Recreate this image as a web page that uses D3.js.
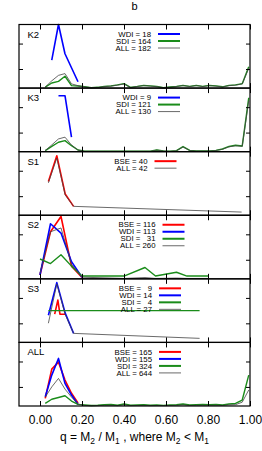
<!DOCTYPE html>
<html>
<head>
<meta charset="utf-8">
<script src="https://cdn.jsdelivr.net/npm/d3@7"></script>
<style>
  body { margin: 0; background: #fff; }
  text { font-family: "Liberation Sans", Arial, sans-serif; fill: #000; }
</style>
</head>
<body>
<svg id="chart"></svg>
<script>
// panel names, top to bottom
const panelNames = ["K2", "K3", "S1", "S2", "S3", "ALL"];

// q bin centres used by the K2, K3 and ALL panels
const binsK = [0.025, 0.056, 0.088, 0.119, 0.150, 0.181, 0.213, 0.244, 0.275, 0.306, 0.338, 0.369,
  0.400, 0.431, 0.463, 0.494, 0.525, 0.556, 0.588, 0.619, 0.650, 0.681, 0.713, 0.744,
  0.775, 0.806, 0.838, 0.869, 0.900, 0.931, 0.963, 0.994];

// K2
const k2WdiQ = [0.056, 0.088, 0.119, 0.150, 0.181];
const k2WdiV = [0.22, 0.50, 0.27, 0.16, 0.05];
const k2SdiV = [0.008, 0.040, 0.053, 0.093, 0.019, 0.016, 0.010, 0.003, 0.006, 0.013, 0.017, 0.025,
  0.035, 0.006, 0.013, 0.021, 0.017, 0.013, 0.003, 0.008, 0.013, 0.021, 0.013, 0.021,
  0.013, 0.021, 0.017, 0.010, 0.021, 0.025, 0.035, 0.167];
const k2AllV = [0.008, 0.057, 0.100, 0.114, 0.033, 0.019, 0.009, 0.003, 0.005, 0.012, 0.015, 0.023,
  0.032, 0.005, 0.012, 0.019, 0.015, 0.012, 0.003, 0.007, 0.012, 0.019, 0.012, 0.019,
  0.012, 0.019, 0.015, 0.009, 0.019, 0.023, 0.032, 0.155];

// K3
const k3WdiQ = [0.088, 0.119, 0.150];
const k3WdiV = [0.44, 0.44, 0.114];
const k3SdiV = [0.008, 0.041, 0.074, 0.087, 0.047, 0.013, 0.003, 0.003, 0.003, 0.003, 0.003, 0.003,
  0.003, 0.003, 0.003, 0.003, 0.003, 0.013, 0.005, 0.003, 0.008, 0.040, 0.010, 0.005,
  0.005, 0.005, 0.010, 0.021, 0.041, 0.050, 0.045, 0.424];
const k3AllV = [0.008, 0.053, 0.100, 0.114, 0.052, 0.012, 0.003, 0.003, 0.003, 0.003, 0.003, 0.003,
  0.003, 0.003, 0.003, 0.003, 0.003, 0.012, 0.005, 0.003, 0.007, 0.037, 0.009, 0.005,
  0.005, 0.005, 0.009, 0.019, 0.038, 0.046, 0.042, 0.400];

// S1
const s1BseQ = [0.04, 0.08, 0.12, 0.16];
const s1BseV = [0.265, 0.468, 0.167, 0.070];
const s1AllQ = [0.04, 0.08, 0.12, 0.16, 0.96];
const s1AllV = [0.255, 0.450, 0.160, 0.070, 0.025];

// S2
const s2Q = [0, 0.05, 0.10, 0.15, 0.20];
const s2BseV = [0.030, 0.370, 0.490, 0.100, 0.010];
const s2WdiV = [0.030, 0.433, 0.360, 0.135, 0.012];
const s2SdiQ = [0, 0.05, 0.10, 0.15, 0.20, 0.40, 0.50, 0.55, 0.65, 0.70, 0.80];
const s2SdiV = [0.156, 0.120, 0.190, 0.100, 0.022, 0.022, 0.089, 0.022, 0.052, 0.022, 0.022];
const s2AllV = [0.045, 0.370, 0.400, 0.115, 0.013, 0.003, 0.010, 0.003, 0.006, 0.003, 0.003];

// S3
const s3BseQ = [0.07, 0.085, 0.095, 0.12];
const s3BseV = [0.222, 0.333, 0.222, 0.222];
const s3WdiQ = [0.04, 0.08, 0.12, 0.16];
const s3WdiV = [0.214, 0.470, 0.230, 0.071];
const s3SdiQ = [0.04, 0.08, 0.12, 0.76];
const s3SdiV = [0.25, 0.25, 0.25, 0.25];
const s3AllQ = [0.04, 0.08, 0.12, 0.16, 0.76];
const s3AllV = [0.151, 0.460, 0.220, 0.071, 0.032];

// ALL
const allQ6 = [0.025, 0.056, 0.088, 0.119, 0.150, 0.181];
const allBseV = [0.060, 0.290, 0.345, 0.204, 0.100, 0.024];
const allWdiV = [0.073, 0.243, 0.374, 0.178, 0.086, 0.012];
const allSdiV = [0.021, 0.053, 0.067, 0.081, 0.039, 0.013, 0.008, 0.004, 0.006, 0.010, 0.012, 0.006,
  0.016, 0.006, 0.008, 0.010, 0.006, 0.008, 0.005, 0.008, 0.010, 0.016, 0.008, 0.010,
  0.012, 0.010, 0.012, 0.008, 0.016, 0.020, 0.047, 0.243];
const allAllV = [0.070, 0.150, 0.217, 0.133, 0.070, 0.016, 0.004, 0.002, 0.003, 0.005, 0.006, 0.003,
  0.008, 0.003, 0.004, 0.005, 0.003, 0.004, 0.003, 0.004, 0.005, 0.008, 0.004, 0.005,
  0.006, 0.005, 0.006, 0.004, 0.008, 0.010, 0.030, 0.126];

// legend texts
const legendTexts = [
  ["WDI = 18", "SDI = 164", "ALL = 182"],
  ["WDI = 9", "SDI = 121", "ALL = 130"],
  ["BSE = 40", "ALL = 42"],
  ["BSE = 116", "WDI = 113", "SDI =   31", "ALL = 260"],
  ["BSE =   9", "WDI = 14", "SDI =   4", "ALL = 27"],
  ["BSE = 165", "WDI = 155", "SDI = 324", "ALL = 644"]
];

const xTicks = [0, 0.2, 0.4, 0.6, 0.8, 1.0];
const yTicks = [0.15, 0.35];

const colors = { BSE: "#ff0000", WDI: "#0000ff", SDI: "#1a8c1a", ALL: "#444" };
const widths = { BSE: 1.6, WDI: 1.6, SDI: 1.4, ALL: 0.8 };

const zip = (q, v) => q.map((d, i) => [d, v[i]]);

const series = [
  { WDI: zip(k2WdiQ, k2WdiV), SDI: zip(binsK, k2SdiV), ALL: zip(binsK, k2AllV) },
  { WDI: zip(k3WdiQ, k3WdiV), SDI: zip(binsK, k3SdiV), ALL: zip(binsK, k3AllV) },
  { BSE: zip(s1BseQ, s1BseV), ALL: zip(s1AllQ, s1AllV) },
  { BSE: zip(s2Q, s2BseV), WDI: zip(s2Q, s2WdiV), SDI: zip(s2SdiQ, s2SdiV), ALL: zip(s2SdiQ, s2AllV) },
  { BSE: zip(s3BseQ, s3BseV), WDI: zip(s3WdiQ, s3WdiV), SDI: zip(s3SdiQ, s3SdiV), ALL: zip(s3AllQ, s3AllV) },
  { BSE: zip(allQ6, allBseV), WDI: zip(allQ6, allWdiV), SDI: zip(binsK, allSdiV), ALL: zip(binsK, allAllV) }
];

const legendX = [158, 158, 154.5, 162.5, 159, 159];

const W = 262, H = 451;
const plotLeft = 19, plotRight = 250, plotTop = 24.5, plotBottom = 406;
const panelH = (plotBottom - plotTop) / 6;

const svg = d3.select("#chart").attr("width", W).attr("height", H);
svg.append("rect").attr("width", W).attr("height", H).attr("fill", "#fff");

const x = d3.scaleLinear().domain([-0.1, 1.0]).range([plotLeft, plotRight]);

svg.append("text")
  .attr("x", (plotLeft + plotRight) / 2).attr("y", 9.5)
  .attr("text-anchor", "middle").style("font-size", "11px")
  .text("b");

panelNames.forEach((name, i) => {
  const pTop = plotTop + i * panelH;
  const pBot = pTop + panelH;
  const y = d3.scaleLinear().domain([0, 0.5]).range([pBot, pTop]);
  const g = svg.append("g");

  const line = d3.line().x(d => x(d[0])).y(d => y(d[1]));
  const s = series[i];
  ["BSE", "WDI", "SDI", "ALL"].forEach(key => {
    if (!s[key]) return;
    g.append("path")
      .datum(s[key])
      .attr("d", line)
      .attr("fill", "none")
      .attr("stroke", colors[key])
      .attr("stroke-width", widths[key])
      .attr("stroke-linejoin", "round");
  });

  // ticks, all pointing inward
  const tickStyle = sel => {
    sel.select(".domain").remove();
    sel.selectAll("line").attr("stroke", "#000").attr("stroke-width", 1);
  };
  g.append("g").attr("transform", `translate(0,${pBot})`)
    .call(d3.axisBottom(x).tickValues(xTicks).tickSize(-5).tickFormat(""))
    .call(tickStyle);
  g.append("g").attr("transform", `translate(0,${pTop})`)
    .call(d3.axisTop(x).tickValues(xTicks).tickSize(-5).tickFormat(""))
    .call(tickStyle);
  g.append("g").attr("transform", `translate(${plotLeft},0)`)
    .call(d3.axisLeft(y).tickValues(yTicks).tickSize(-4).tickFormat(""))
    .call(tickStyle);
  g.append("g").attr("transform", `translate(${plotRight},0)`)
    .call(d3.axisRight(y).tickValues(yTicks).tickSize(-4).tickFormat(""))
    .call(tickStyle);

  g.append("rect")
    .attr("x", plotLeft).attr("y", pTop)
    .attr("width", plotRight - plotLeft).attr("height", panelH)
    .attr("fill", "none").attr("stroke", "#000").attr("stroke-width", 1.2);

  g.append("text")
    .attr("x", plotLeft + 8.5).attr("y", pTop + 13)
    .style("font-size", "9.5px")
    .text(name);

  // legend
  const keys = ["BSE", "WDI", "SDI", "ALL"].filter(k => legendTexts[i].some(t => t.startsWith(k)));
  legendTexts[i].forEach((t, j) => {
    const ly = pTop + 9.5 + j * 7.0;
    const key = keys[j];
    g.append("text")
      .attr("x", legendX[i] - 7).attr("y", ly + 2.7)
      .attr("text-anchor", "end")
      .style("font-size", "7.8px")
      .style("white-space", "pre")
      .text(t);
    g.append("line")
      .attr("x1", legendX[i]).attr("x2", legendX[i] + 22)
      .attr("y1", ly).attr("y2", ly)
      .attr("stroke", colors[key])
      .attr("stroke-width", key === "ALL" ? 0.8 : 2);
  });
});

// x labels under the last panel
const xAxis = svg.append("g").attr("transform", `translate(0,${plotBottom})`)
  .call(d3.axisBottom(x).tickValues(xTicks).tickSize(0).tickPadding(9).tickFormat(d3.format(".2f")));
xAxis.select(".domain").remove();
xAxis.selectAll("text").style("font-size", "12px").style("font-family", "'Liberation Sans', Arial, sans-serif");

const title = svg.append("text")
  .attr("x", (plotLeft + plotRight) / 2).attr("y", 441)
  .attr("text-anchor", "middle").style("font-size", "12px");
title.append("tspan").text("q = M");
title.append("tspan").attr("dy", 3).style("font-size", "8.5px").text("2");
title.append("tspan").attr("dy", -3).text(" / M");
title.append("tspan").attr("dy", 3).style("font-size", "8.5px").text("1");
title.append("tspan").attr("dy", -3).text(" , where M");
title.append("tspan").attr("dy", 3).style("font-size", "8.5px").text("2");
title.append("tspan").attr("dy", -3).text(" < M");
title.append("tspan").attr("dy", 3).style("font-size", "8.5px").text("1");
</script>
</body>
</html>
